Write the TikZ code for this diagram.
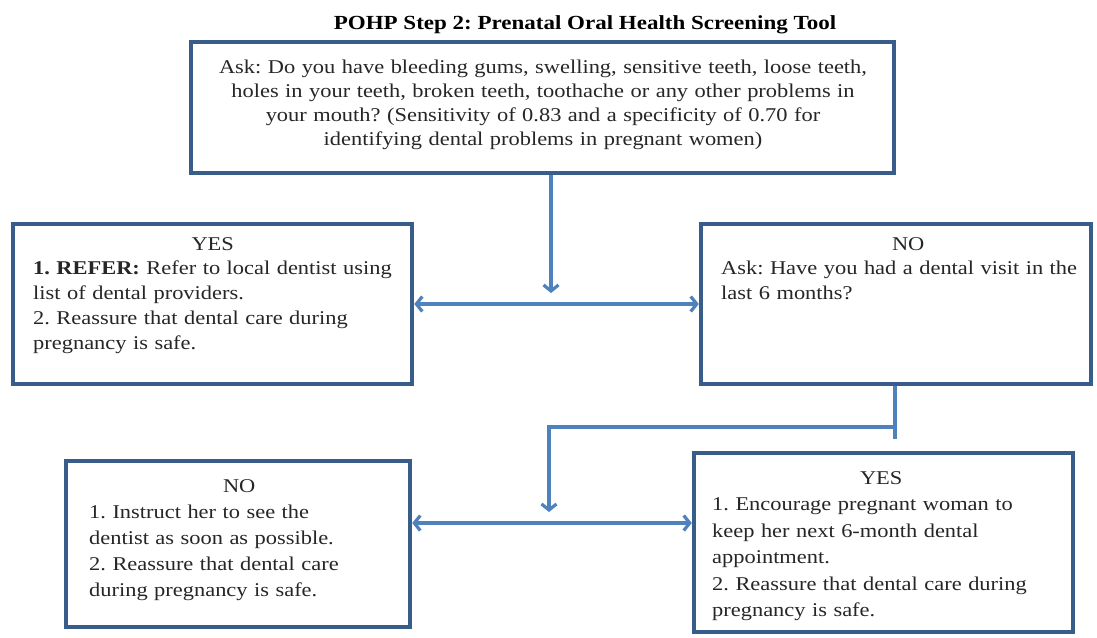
\documentclass[tikz,border=0pt]{standalone}
\usepackage{fontspec}
\setmainfont{Liberation Serif}[FakeStretch=1.15]
\usetikzlibrary{arrows.meta}
\definecolor{boxblue}{RGB}{56,93,138}
\definecolor{linkblue}{RGB}{79,129,189}
\tikzset{
  flowbox/.style={draw=boxblue, line width=4.5pt, fill=white, inner sep=0pt},
  bodytext/.style={inner sep=0pt, anchor=north west, align=left, text=black!85, text width=420pt},
  link/.style={draw=linkblue, line width=3.2pt},
  tip/.style={-{Straight Barb[length=6pt,width=15pt]}},
  tips/.style={{Straight Barb[length=6pt,width=15pt]}-{Straight Barb[length=6pt,width=15pt]}}
}
\begin{document}
\frenchspacing
\begin{tikzpicture}[x=1pt,y=-1pt]
\useasboundingbox[fill=white] (0,0) rectangle (1097,637);

\node[inner sep=0pt, anchor=base, font=\bfseries\fontsize{20}{24}\selectfont] (title) at (585,29)
  {POHP Step 2: Prenatal Oral Health Screening Tool};

% boxes
\node[flowbox, minimum width=703pt, minimum height=131pt] (top) at (542.5,107.5) {};
\node[flowbox, minimum width=399pt, minimum height=160pt] (yes1) at (212.5,304) {};
\node[flowbox, minimum width=390pt, minimum height=160pt] (no1) at (896,304) {};
\node[flowbox, minimum width=344pt, minimum height=166pt] (no2) at (238,544) {};
\node[flowbox, minimum width=379pt, minimum height=179pt] (yes2) at (883.5,542.5) {};

% texts
\node[inner sep=0pt, anchor=north, align=center, text width=700pt, text=black!85,
      font=\fontsize{19.5}{24}\selectfont] (toptext) at (543,60)
  {Ask: Do you have bleeding gums, swelling, sensitive teeth, loose teeth,\\
   holes in your teeth, broken teeth, toothache or any other problems in\\
   your mouth? (Sensitivity of 0.83 and a specificity of 0.70 for\\
   identifying dental problems in pregnant women)};

\node[bodytext, font=\fontsize{19.5}{24.8}\selectfont] (yes1text) at (33,237)
  {\makebox[359pt]{YES}\\
   \textbf{1. REFER:} Refer to local dentist using\\
   list of dental providers.\\
   2. Reassure that dental care during\\
   pregnancy is safe.};

\node[bodytext, font=\fontsize{19.5}{24.8}\selectfont] (no1text) at (721,237)
  {\makebox[374pt]{NO}\\
   Ask: Have you had a dental visit in the\\
   last 6 months?};

\node[bodytext, font=\fontsize{19.5}{26}\selectfont] (no2text) at (89,479)
  {\makebox[300pt]{NO}\\
   1. Instruct her to see the\\
   dentist as soon as possible.\\
   2. Reassure that dental care\\
   during pregnancy is safe.};

\node[bodytext, font=\fontsize{19.5}{26.5}\selectfont] (yes2text) at (712,471)
  {\makebox[338pt]{YES}\\
   1. Encourage pregnant woman to\\
   keep her next 6-month dental\\
   appointment.\\
   2. Reassure that dental care during\\
   pregnancy is safe.};

% connectors
\coordinate (a1) at (551,293);
\coordinate (j1) at (895,427);
\coordinate (s1) at (895,439);
\coordinate (a2) at (549,512);
\coordinate (j2) at (549,523);

\draw[link, tip] (top.south -| a1) -- (a1);
\draw[link, tips] (yes1.east) -- (no1.west);
\draw[link] (no1.south -| j1) -- (s1);
\draw[link, tip] (j1) -| (a2);
\draw[link, tips] (j2 -| no2.east) -- (j2 -| yes2.west);
\end{tikzpicture}
\end{document}
